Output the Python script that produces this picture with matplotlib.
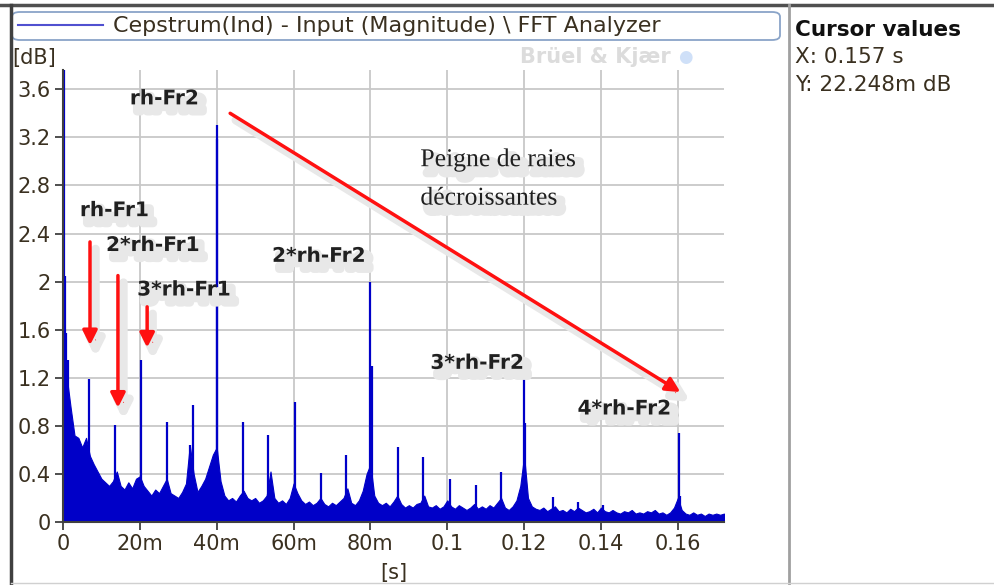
import numpy as np
import matplotlib.pyplot as plt
import matplotlib.patheffects as pe
from matplotlib.lines import Line2D
from matplotlib.patches import FancyBboxPatch

# Noise band top, one value per ms, in dB
floor_db = [
    1.60, 1.20, 0.95, 0.72, 0.70, 0.62, 0.70, 0.55, 0.48, 0.42,
    0.36, 0.33, 0.30, 0.34, 0.42, 0.30, 0.27, 0.33, 0.28, 0.36,
    0.38, 0.30, 0.26, 0.22, 0.27, 0.24, 0.30, 0.36, 0.24, 0.22,
    0.20, 0.25, 0.32, 0.64, 0.40, 0.25, 0.30, 0.36, 0.46, 0.56,
    0.62, 0.34, 0.22, 0.18, 0.20, 0.17, 0.22, 0.26, 0.20, 0.18,
    0.20, 0.16, 0.18, 0.22, 0.42, 0.20, 0.16, 0.18, 0.15, 0.20,
    0.32, 0.24, 0.18, 0.15, 0.17, 0.14, 0.16, 0.20, 0.15, 0.13,
    0.16, 0.14, 0.17, 0.20, 0.28, 0.16, 0.14, 0.18, 0.26, 0.40,
    0.48, 0.22, 0.16, 0.14, 0.16, 0.13, 0.17, 0.22, 0.15, 0.12,
    0.14, 0.12, 0.15, 0.16, 0.22, 0.13, 0.12, 0.14, 0.11, 0.13,
    0.18, 0.13, 0.11, 0.14, 0.12, 0.10, 0.12, 0.15, 0.11, 0.13,
    0.11, 0.14, 0.12, 0.16, 0.20, 0.12, 0.10, 0.13, 0.18, 0.30,
    0.55, 0.20, 0.13, 0.11, 0.10, 0.12, 0.09, 0.11, 0.13, 0.09,
    0.10, 0.08, 0.11, 0.09, 0.12, 0.10, 0.08, 0.09, 0.11, 0.08,
    0.12, 0.09, 0.08, 0.10, 0.08, 0.07, 0.09, 0.08, 0.10, 0.07,
    0.08, 0.07, 0.09, 0.08, 0.10, 0.07, 0.08, 0.06, 0.08, 0.12,
    0.20, 0.10, 0.07, 0.06, 0.08, 0.06, 0.07, 0.05, 0.07, 0.06,
    0.07, 0.06, 0.07,
]

# Rahmonic peaks: quefrency (ms) and magnitude (dB)
peak_ms = [0.15, 0.4, 0.8, 1.2, 6.8, 13.6, 20.3, 27.1, 33.1, 33.9,
           40.0, 40.2, 46.9, 53.4, 60.4, 67.2, 73.7, 80.0, 80.3,
           87.3, 93.8, 100.8, 107.6, 114.0, 120.0, 120.2, 127.6,
           134.0, 140.5, 160.3, 160.5]
peak_db = [3.90, 2.05, 1.57, 1.35, 1.19, 0.81, 1.35, 0.83, 0.64, 0.97,
           3.19, 3.30, 0.83, 0.72, 1.00, 0.41, 0.56, 2.00, 1.30,
           0.62, 0.54, 0.36, 0.31, 0.42, 1.20, 0.82, 0.21,
           0.17, 0.14, 0.74, 0.22]

xticks = [0, 0.02, 0.04, 0.06, 0.08, 0.1, 0.12, 0.14, 0.16]
xtick_labels = ['0', '20m', '40m', '60m', '80m', '0.1', '0.12', '0.14', '0.16']
yticks = [0, 0.4, 0.8, 1.2, 1.6, 2.0, 2.4, 2.8, 3.2, 3.6]
ytick_labels = ['0', '0.4', '0.8', '1.2', '1.6', '2', '2.4', '2.8', '3.2', '3.6']

# annotation labels: text, x (s), y (dB)
labels = ['rh-Fr2', 'rh-Fr1', '2*rh-Fr1', '3*rh-Fr1', '2*rh-Fr2', '3*rh-Fr2', '4*rh-Fr2']
label_x = [0.0174, 0.0044, 0.0112, 0.0193, 0.0544, 0.0956, 0.1339]
label_y = [3.52, 2.59, 2.30, 1.93, 2.21, 1.32, 0.94]

BLUE = '#0000c8'
TXT = '#3a3020'

fig = plt.figure(figsize=(9.95, 5.85), dpi=100)
fig.patch.set_facecolor('white')
ax = fig.add_axes([0.0633, 0.1077, 0.6643, 0.7726])

t = np.arange(len(floor_db)) / 1000.0
ax.fill_between(t, 0, floor_db, color=BLUE, lw=0.8, edgecolor=BLUE)
ax.vlines(np.array(peak_ms) / 1000.0, 0, peak_db, color=BLUE, lw=1.6)

ax.set_xlim(0, 0.172)
ax.set_ylim(0, 3.76)
ax.set_xticks(xticks)
ax.set_xticklabels(xtick_labels)
ax.set_yticks(yticks)
ax.set_yticklabels(ytick_labels)
ax.grid(True, color='#c8c8c8', lw=1.3)
ax.set_axisbelow(True)
for s in ['top', 'right']:
    ax.spines[s].set_visible(False)
for s in ['left', 'bottom']:
    ax.spines[s].set_color('#404040')
    ax.spines[s].set_linewidth(1.5)
ax.tick_params(direction='out', length=6, width=1.3, color='#404040',
               labelsize=15, labelcolor=TXT, pad=3)

# soft grey drop shadow behind the annotations
shadow = [pe.Stroke(offset=(4, -5), linewidth=6, foreground='#e8e8e8'),
          pe.Normal()]
for lab, lx, ly in zip(labels, label_x, label_y):
    ax.text(lx, ly, lab, fontsize=14.5, fontweight='bold', color='#202020',
            va='center', ha='left', path_effects=shadow)

# red arrows towards the rahmonics
arrow_kw = dict(arrowstyle='-|>', color='#ff1010', lw=2.5, mutation_scale=22,
                shrinkA=0, shrinkB=0)
arrow_from = [(0.00703, 2.33), (0.0143, 2.05), (0.0219, 1.79), (0.0435, 3.40)]
arrow_to = [(0.00703, 1.47), (0.0143, 0.95), (0.0219, 1.45), (0.1607, 1.08)]
for a, b in zip(arrow_from, arrow_to):
    an = ax.annotate('', xy=b, xytext=a, arrowprops=arrow_kw)
    an.arrow_patch.set_path_effects(shadow)

ax.text(0.093, 3.01, 'Peigne de raies', fontsize=18.5, family='Liberation Serif',
        color='#202020', va='center', path_effects=shadow)
ax.text(0.093, 2.69, 'décroissantes', fontsize=18.5, family='Liberation Serif',
        color='#202020', va='center', path_effects=shadow)

ax.set_xlabel('[s]', fontsize=15, color=TXT, labelpad=6)
fig.text(12 / 995, 1 - 58 / 585, '[dB]', fontsize=15, color=TXT, va='center')

# watermark
fig.text(520 / 995, 1 - 57 / 585, 'Brüel & Kjær', fontsize=15, fontweight='bold',
         color='#dcdcdc', va='center')
fig.text(678 / 995, 1 - 57 / 585, '●', fontsize=12, color='#cfe0f8', va='center')

# legend header box
box = FancyBboxPatch((12 / 995, 1 - 40 / 585), 768 / 995, 28 / 585,
                     boxstyle='round,pad=0,rounding_size=0.008',
                     transform=fig.transFigure, fc='white', ec='#8aa4c8', lw=1.3)
fig.add_artist(box)
fig.add_artist(Line2D([18 / 995, 103 / 995], [1 - 25 / 585, 1 - 25 / 585],
                      color='#5050d0', lw=1.5))
fig.text(113 / 995, 1 - 26 / 585, 'Cepstrum(Ind) - Input (Magnitude) \\ FFT Analyzer',
         fontsize=16, color=TXT, va='center')

# cursor panel
fig.text(795 / 995, 1 - 30 / 585, 'Cursor values', fontsize=15.5, fontweight='bold',
         color='#101010', va='center')
fig.text(795 / 995, 1 - 57 / 585, 'X: 0.157 s', fontsize=15.5, color=TXT, va='center')
fig.text(795 / 995, 1 - 85 / 585, 'Y: 22.248m dB', fontsize=15.5, color=TXT, va='center')

# window frame
fig.add_artist(Line2D([0, 1], [1 - 5 / 585, 1 - 5 / 585], color='#505050', lw=2.5))
fig.add_artist(Line2D([11 / 995, 11 / 995], [0, 1 - 5 / 585], color='#404040', lw=2.5))
fig.add_artist(Line2D([789 / 995, 789 / 995], [0, 1 - 5 / 585], color='#a0a0a0', lw=2))
fig.add_artist(Line2D([11 / 995, 1], [2 / 585, 2 / 585], color='#d0d0d0', lw=1))

fig.savefig('out.png', dpi=100)
